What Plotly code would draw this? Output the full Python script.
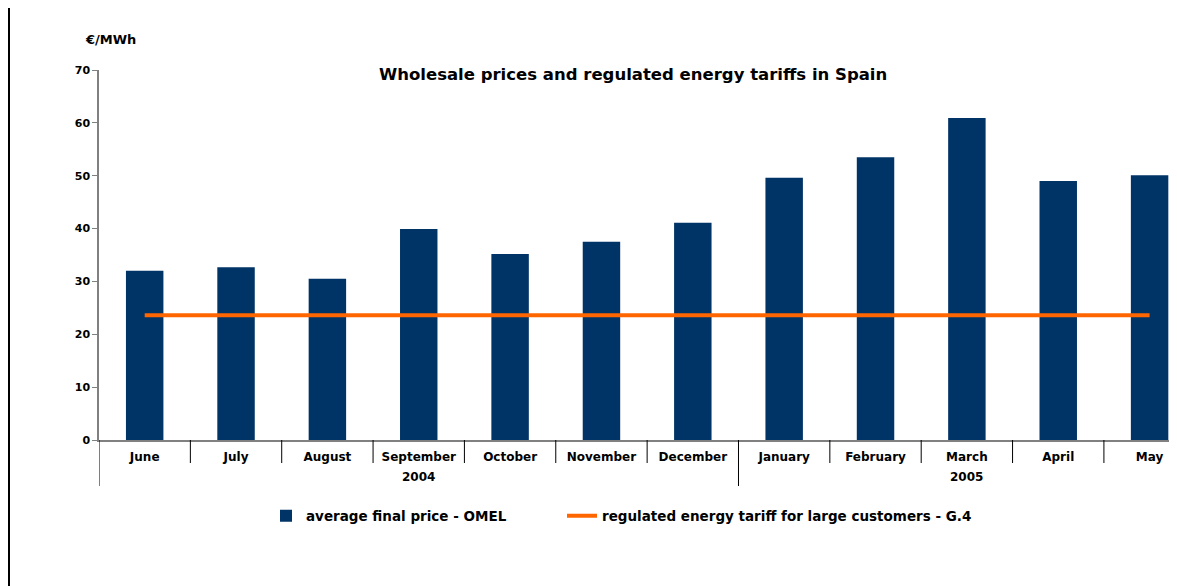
import plotly.graph_objects as go

months = ["June", "July", "August", "September", "October", "November", "December",
          "January", "February", "March", "April", "May"]
years = ["2004"] * 7 + ["2005"] * 5
omel_price = [32.0, 32.7, 30.5, 39.9, 35.2, 37.5, 41.1, 49.6, 53.5, 60.9, 49.0, 50.1]
tariff_g4 = [23.6] * 12

navy = "#003366"
orange = "#FF6600"
font_family = "DejaVu Sans, Liberation Sans, Arial, sans-serif"

# page body has an 8px margin: figure is 1169x578 so it lands on the 1177x586 window
W, H = 1169, 578
L, T = 91, 62
PW, PH = 1078, 370


def px_x(x):
    return (x - 99) / PW


def px_y(y):
    return (440 - y) / PH


fig = go.Figure()
fig.add_trace(go.Bar(
    x=months, y=omel_price,
    name="average final price - OMEL",
    marker=dict(color=navy, line=dict(width=0)),
    width=0.41,
    legend="legend",
))
fig.add_trace(go.Scatter(
    x=months, y=tariff_g4,
    name="regulated energy tariff for large customers - G.4",
    mode="lines",
    line=dict(color=orange, width=4),
    legend="legend2",
))

# year groups: centre label + dividers at group boundaries
shapes = []
annotations = []
idx = list(range(len(months)))
group_starts = [i for i in idx if i == 0 or years[i] != years[i - 1]]
for g, start in enumerate(group_starts):
    end = group_starts[g + 1] - 1 if g + 1 < len(group_starts) else len(months) - 1
    annotations.append(dict(
        text=f"<b>{years[start]}</b>", xref="x", yref="paper",
        x=(start + end) / 2, y=px_y(477), xanchor="center", yanchor="middle",
        showarrow=False, font=dict(size=12, family=font_family)))
    shapes.append(dict(type="line", xref="x", yref="paper",
                       x0=start - 0.5, x1=start - 0.5, y0=0, y1=px_y(486),
                       line=dict(color="black", width=1)))
# month boundary ticks
for i in idx[:-1]:
    if (i + 1) in group_starts:
        continue
    shapes.append(dict(type="line", xref="x", yref="paper",
                       x0=i + 0.5, x1=i + 0.5, y0=0, y1=px_y(463),
                       line=dict(color="black", width=1)))
# left border of the picture
shapes.append(dict(type="line", xref="paper", yref="paper",
                   x0=px_x(9), x1=px_x(9), y0=px_y(600), y1=px_y(-10),
                   line=dict(color="black", width=2)))

annotations += [
    dict(text="<b>Wholesale prices and regulated energy tariffs in Spain</b>",
         xref="paper", yref="paper", x=px_x(633), y=px_y(75),
         xanchor="center", yanchor="middle", showarrow=False,
         font=dict(size=16.5, family=font_family)),
    dict(text="<b>€/MWh</b>",
         xref="paper", yref="paper", x=px_x(83), y=px_y(40),
         xanchor="left", yanchor="middle", showarrow=False,
         font=dict(size=13, family=font_family)),
]

legend_font = dict(size=13.5, family=font_family, weight="bold")
fig.update_layout(
    width=W, height=H,
    margin=dict(l=L, r=0, t=T, b=H - T - PH),
    paper_bgcolor="white", plot_bgcolor="white",
    font=dict(family=font_family, color="black", size=11),
    showlegend=True,
    legend=dict(orientation="h", x=px_x(266), xanchor="left", y=px_y(516),
                yanchor="middle", font=legend_font, bgcolor="rgba(0,0,0,0)"),
    legend2=dict(orientation="h", x=px_x(562), xanchor="left", y=px_y(516),
                 yanchor="middle", font=legend_font, bgcolor="rgba(0,0,0,0)"),
    annotations=annotations,
    shapes=shapes,
)

fig.update_yaxes(
    range=[0, 70], dtick=10, showgrid=False, zeroline=False,
    showline=True, linecolor="#808080", linewidth=1.5,
    ticks="outside", ticklen=5, tickcolor="#808080",
    tickfont=dict(size=11, family=font_family, weight="bold"),
)
fig.update_xaxes(
    type="category", range=[-0.5, 11.3], showgrid=False, zeroline=False,
    showline=True, linecolor="#808080", linewidth=1.5,
    ticks="", ticklabelstandoff=5,
    tickfont=dict(size=12, family=font_family, weight="bold"),
)

fig.write_html("out.html")
